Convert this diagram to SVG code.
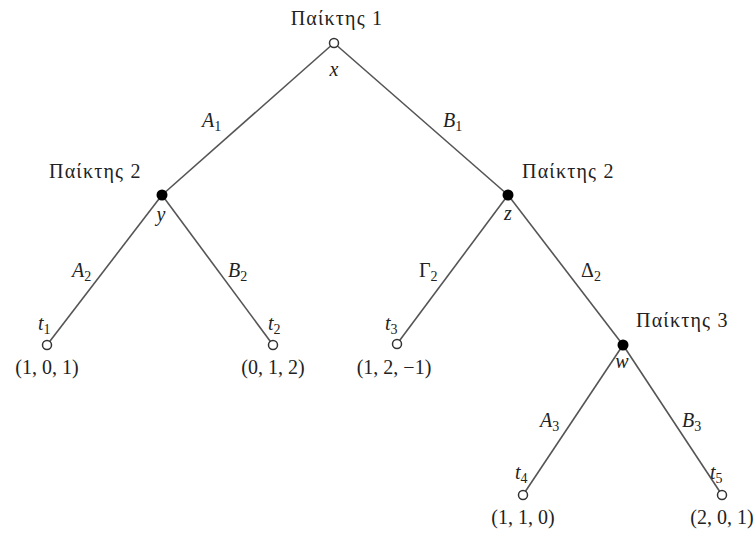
<svg xmlns="http://www.w3.org/2000/svg" width="755" height="533" viewBox="0 0 755 533">
<style>
.t{font-family:"Liberation Serif","DejaVu Serif",serif;font-size:20px;fill:#222}
.p{letter-spacing:1.2px}
.i{font-style:italic}
.s{font-size:14px;font-style:normal}
.c{text-anchor:middle}
.e{stroke:#555;stroke-width:1.6;fill:none}
.o{fill:#fff;stroke:#333;stroke-width:1.5}
.f{fill:#000}
</style>
<rect width="755" height="533" fill="#fff"/>
<g id="edges">
<line class="e" x1="334" y1="43" x2="162" y2="195"/>
<line class="e" x1="334" y1="43" x2="508" y2="195"/>
<line class="e" x1="162" y1="195" x2="47" y2="345"/>
<line class="e" x1="162" y1="195" x2="273" y2="345"/>
<line class="e" x1="508" y1="195" x2="397" y2="344"/>
<line class="e" x1="508" y1="195" x2="623" y2="345"/>
<line class="e" x1="623" y1="345" x2="523" y2="495"/>
<line class="e" x1="623" y1="345" x2="722" y2="495"/>
<text class="t i" x="202" y="127">A<tspan class="s" dy="4">1</tspan></text>
<text class="t i" x="443" y="127">B<tspan class="s" dy="4">1</tspan></text>
<text class="t i" x="72" y="277">A<tspan class="s" dy="4">2</tspan></text>
<text class="t i" x="228" y="277">B<tspan class="s" dy="4">2</tspan></text>
<text class="t" x="419" y="277">Γ<tspan class="s" dy="4">2</tspan></text>
<text class="t" x="581" y="277">Δ<tspan class="s" dy="4">2</tspan></text>
<text class="t i" x="540" y="427">A<tspan class="s" dy="4">3</tspan></text>
<text class="t i" x="682" y="427">B<tspan class="s" dy="4">3</tspan></text>
</g>
<g id="x">
<circle class="o" cx="334" cy="43" r="4.5"/>
<text class="t p c" x="337" y="25">Παίκτης 1</text>
<text class="t i c" x="334" y="76">x</text>
</g>
<g id="y">
<circle class="f" cx="162" cy="195" r="5.5"/>
<text class="t p" x="49" y="178">Παίκτης 2</text>
<text class="t i c" x="161" y="221">y</text>
</g>
<g id="z">
<circle class="f" cx="508" cy="195" r="5.5"/>
<text class="t p" x="522" y="178">Παίκτης 2</text>
<text class="t i c" x="508" y="220">z</text>
</g>
<g id="w">
<circle class="f" cx="623" cy="345" r="5.5"/>
<text class="t p" x="636" y="327">Παίκτης 3</text>
<text class="t i c" x="622" y="368">w</text>
</g>
<g id="t1">
<circle class="o" cx="47" cy="345" r="4.5"/>
<text class="t i" x="38" y="330">t<tspan class="s" dy="4">1</tspan></text>
<text class="t c" x="47" y="374">(1, 0, 1)</text>
</g>
<g id="t2">
<circle class="o" cx="273" cy="345" r="4.5"/>
<text class="t i" x="268" y="330">t<tspan class="s" dy="4">2</tspan></text>
<text class="t c" x="273" y="374">(0, 1, 2)</text>
</g>
<g id="t3">
<circle class="o" cx="397" cy="344" r="4.5"/>
<text class="t i" x="385" y="330">t<tspan class="s" dy="4">3</tspan></text>
<text class="t c" x="394" y="374">(1, 2, −1)</text>
</g>
<g id="t4">
<circle class="o" cx="523" cy="495" r="4.5"/>
<text class="t i" x="515" y="479">t<tspan class="s" dy="4">4</tspan></text>
<text class="t c" x="523" y="524">(1, 1, 0)</text>
</g>
<g id="t5">
<circle class="o" cx="722" cy="495" r="4.5"/>
<text class="t i" x="710" y="479">t<tspan class="s" dy="4">5</tspan></text>
<text class="t c" x="722" y="524">(2, 0, 1)</text>
</g>
</svg>
